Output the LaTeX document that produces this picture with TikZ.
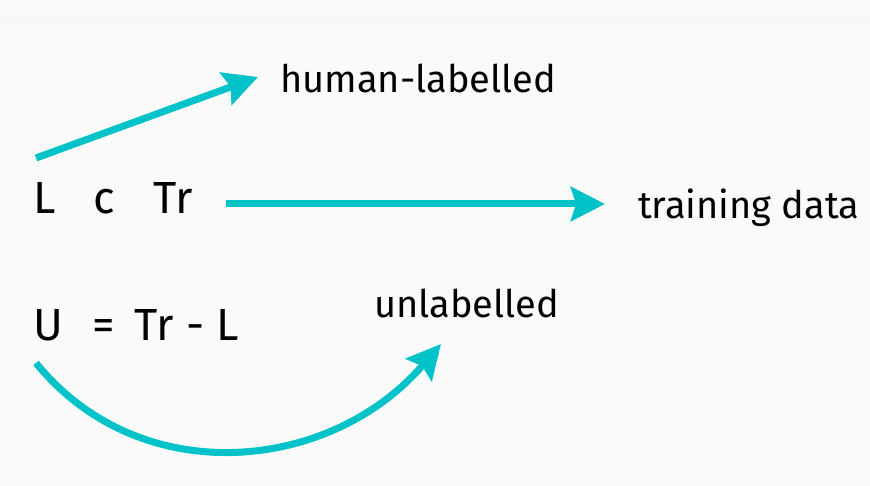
\documentclass[tikz,border=0pt]{standalone}
\usepackage{fontspec}
\setmainfont{Fira Sans}
\usetikzlibrary{arrows.meta, positioning}
\definecolor{teal1}{HTML}{00C2C9}
\definecolor{bg}{HTML}{FAFAFA}
\tikzstyle{arrow} = [teal1, line width=7pt, -{Stealth[length=34pt, width=34pt, inset=5pt]}]
\tikzstyle{txt} = [inner sep=0pt, anchor=base west, font=\fontsize{38}{44}\selectfont]
\tikzstyle{eqn} = [inner sep=0pt, anchor=base west, font=\fontsize{45}{50}\selectfont]

\begin{document}
\begin{tikzpicture}[x=1pt, y=-1pt]

        % Background
        \fill[bg] (0,0) rectangle (870,486);
        \shade[top color=bg, bottom color=bg, middle color=black!3] (0,0) rectangle (870,36);
        \useasboundingbox (0,0) rectangle (870,486);

        % L c Tr
        \node[eqn] at (33,214) (sub) {L\hspace{0.85em}c\hspace{0.85em}Tr};
        \node[txt] at (280,93) (hl) {human-labelled};
        \node[txt] at (638,219) (td) {training data};

        % U = Tr - L
        \node[eqn] at (33,341) (ueq) {U\hspace{0.65em}=\hspace{0.45em}Tr - L};
        \node[txt] at (374,317) (unl) {unlabelled};

        % Arrows
        \coordinate (a1) at (36,158);
        \coordinate (a1end) at (258,77);
        \draw[arrow] (a1) -- (a1end);

        \coordinate (a2) at (226,204);
        \coordinate (a2end) at (605,204);
        \draw[arrow] (a2) -- (a2end);

        \coordinate (a3) at (36,363);
        \coordinate (a3end) at (441,344);
        \draw[arrow] (a3) .. controls (140,491) and (330,473) .. (a3end);

\end{tikzpicture}
\end{document}
